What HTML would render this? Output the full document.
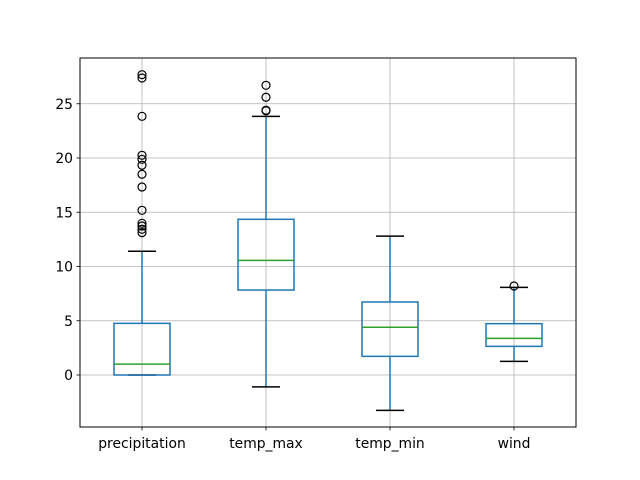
<!DOCTYPE html>
<html><head><meta charset="utf-8"><style>
body{margin:0;background:#fff;}
svg{display:block;font-family:"DejaVu Sans","Liberation Sans",sans-serif;}
</style></head><body>
<svg id="chart" width="640" height="480" xmlns="http://www.w3.org/2000/svg">
<rect x="0" y="0" width="640" height="480" fill="#fff"/>
<g id="grid"></g>
<g id="marks"></g>
<rect x="80" y="58" width="496" height="369" fill="none" stroke="#000" stroke-width="1"/>
<g id="ticks"></g>
</svg>
<script>
const categories = ["precipitation","temp_max","temp_min","wind"];
const q1 = [0, 7.83, 1.72, 2.64];
const medians = [1.0, 10.57, 4.4, 3.38];
const q3 = [4.76, 14.35, 6.73, 4.73];
const whiskerLow = [0, -1.1, -3.26, 1.26];
const whiskerHigh = [11.4, 23.84, 12.8, 8.08];
const outliers = [
  [27.68,27.37,23.84,20.25,19.88,19.33,18.5,17.33,15.18,13.98,13.73,13.43,13.12],
  [26.7,25.6,24.4,24.35],
  [],
  [8.2]
];
const yTicks = [0,5,10,15,20,25];

const NS = "http://www.w3.org/2000/svg";
const L=80,R=576,T=58,B=427;
function y(v){return 375 - v*10.85;}
function x(i){return 142 + i*124;}
function mk(tag,attrs,parent){const e=document.createElementNS(NS,tag);for(const k in attrs)e.setAttribute(k,attrs[k]);parent.appendChild(e);return e;}
const grid=document.getElementById('grid'),marks=document.getElementById('marks'),ticks=document.getElementById('ticks');

yTicks.forEach(t=>{
  const g=mk('line',{x1:L,x2:R,y1:y(t),y2:y(t),stroke:'#b0b0b0','stroke-width':0.8},grid);
  
  
  const tk=mk('line',{x1:L-3.5,x2:L,y1:y(t),y2:y(t),stroke:'#000','stroke-width':0.8},ticks);
  
  
  const tx=mk('text',{x:L-7,y:y(t)+5,'text-anchor':'end','font-size':13.9,fill:'#000'},ticks);
  tx.textContent=t;
  
  
});
categories.forEach((c,i)=>{
  const g=mk('line',{x1:x(i),x2:x(i),y1:T,y2:B,stroke:'#b0b0b0','stroke-width':0.8},grid);
  
  
  const tk=mk('line',{x1:x(i),x2:x(i),y1:B,y2:B+3.5,stroke:'#000','stroke-width':0.8},ticks);
  
  
  const tx=mk('text',{x:x(i),y:B+21,'text-anchor':'middle','font-size':13.9,fill:'#000'},ticks);
  tx.textContent=c;
  
  

  const cx=x(i),blue='#1f77b4';
  const w1=mk('line',{x1:cx,x2:cx,y1:y(q1[i]),y2:y(whiskerLow[i]),stroke:blue,'stroke-width':1.5},marks);
  
  
  const w2=mk('line',{x1:cx,x2:cx,y1:y(q3[i]),y2:y(whiskerHigh[i]),stroke:blue,'stroke-width':1.5},marks);
  
  
  const c1=mk('line',{x1:cx-14,x2:cx+14,y1:y(whiskerLow[i]),y2:y(whiskerLow[i]),stroke:'#000','stroke-width':1.5},marks);
  
  
  const c2=mk('line',{x1:cx-14,x2:cx+14,y1:y(whiskerHigh[i]),y2:y(whiskerHigh[i]),stroke:'#000','stroke-width':1.5},marks);
  
  
  const bx=mk('rect',{x:cx-28,y:y(q3[i]),width:56,height:y(q1[i])-y(q3[i]),fill:'none',stroke:blue,'stroke-width':1.5},marks);
  
  
  const md=mk('line',{x1:cx-28,x2:cx+28,y1:y(medians[i]),y2:y(medians[i]),stroke:'#2ca02c','stroke-width':1.5},marks);
  
  
  outliers[i].forEach(v=>{
    const o=mk('circle',{cx:cx,cy:y(v),r:4,fill:'none',stroke:'#000','stroke-width':1.2},marks);
    
    
  });
});
</script>
</body></html>
